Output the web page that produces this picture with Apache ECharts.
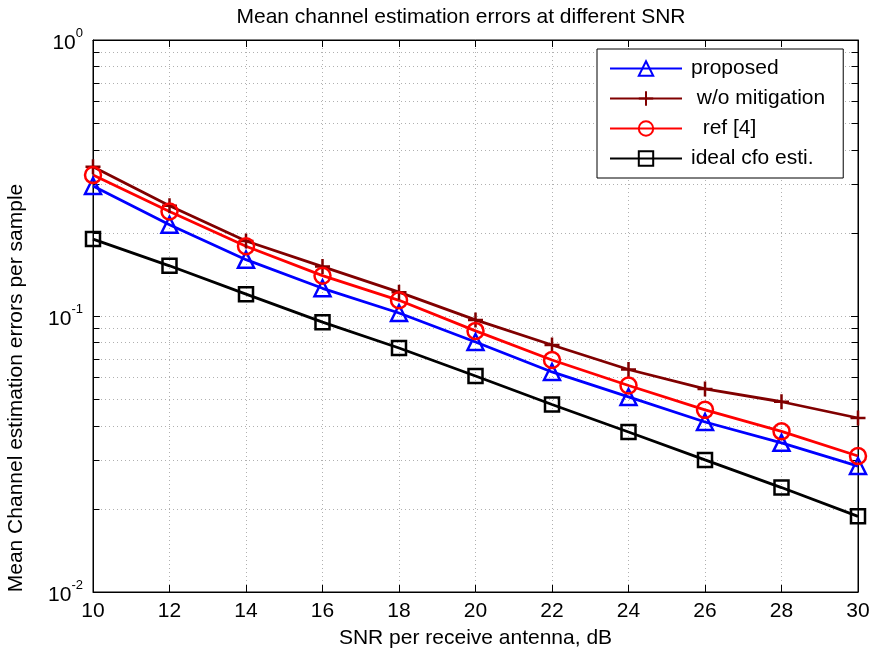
<!DOCTYPE html>
<html><head><meta charset="utf-8">
<script src="https://cdn.jsdelivr.net/npm/echarts@6/dist/echarts.min.js"></script>
<style>html,body{margin:0;padding:0;background:#fff}#c{width:873px;height:655px}</style>
</head><body><div id="c"></div>
<script>
const snr = [10, 12, 14, 16, 18, 20, 22, 24, 26, 28, 30];
const proposed = [0.296, 0.214, 0.160, 0.126, 0.1025, 0.0805, 0.0627, 0.0509, 0.0413, 0.0347, 0.0286];
const woMitigation = [0.347, 0.251, 0.187, 0.151, 0.122, 0.0968, 0.0785, 0.064, 0.0544, 0.0489, 0.0427];
const ref4 = [0.324, 0.239, 0.179, 0.140, 0.114, 0.0883, 0.0693, 0.0560, 0.0457, 0.0382, 0.0311];
const idealCfo = [0.190, 0.152, 0.120, 0.095, 0.0766, 0.0606, 0.0478, 0.0380, 0.0301, 0.0239, 0.0188];
const seriesNames = ['proposed', ' w/o mitigation', '  ref [4]', 'ideal cfo esti.'];
const minorGridValues = [0.02,0.03,0.04,0.05,0.06,0.07,0.08,0.09,0.2,0.3,0.4,0.5,0.6,0.7,0.8,0.9];

const SANS = '"Liberation Sans",Arial,sans-serif';

const chart = echarts.init(document.getElementById('c'), null, {renderer: 'canvas'});
const pair = (arr) => snr.map((x, i) => [x, arr[i]]);
const mk = (name, data, color, symbol, size) => ({
  name, type: 'line', data: pair(data), xAxisIndex: 0, yAxisIndex: 0,
  symbol, symbolSize: size, showAllSymbol: true,
  lineStyle: {color, width: 2.8, type: 'solid'},
  itemStyle: {color: 'rgba(255,255,255,0)', borderColor: color, borderWidth: 2.5},
  emphasis: {disabled: true}, z: 5
});
const plusPath = 'path://M0,-10L0,10M-10,0L10,0';
const tickLen = 0.17; // x units for inward minor tick marks
const minorTicks = [];
minorGridValues.forEach(v => {
  minorTicks.push([{coord: [10, v]}, {coord: [10 + tickLen, v]}]);
  minorTicks.push([{coord: [30 - tickLen, v]}, {coord: [30, v]}]);
});

const option = {
  animation: false,
  title: {text: 'Mean channel estimation errors at different SNR', left: 456, top: 2, textAlign: 'center',
    textStyle: {fontFamily: SANS, fontSize: 21, fontWeight: 'normal', color: '#000'}},
  grid: {left: 93, right: 15, top: 40, bottom: 63, show: true, borderColor: '#000', borderWidth: 1,
    containLabel: false, outerBoundsMode: 'none'},
  legend: {
    left: 597, top: 49, orient: 'vertical', itemWidth: 72, itemHeight: 18, itemGap: 9, z: 20,
    backgroundColor: '#fff', borderColor: '#000', borderWidth: 1, padding: [9, 18, 9, 12],
    textStyle: {fontFamily: SANS, fontSize: 21, lineHeight: 21, color: '#000', padding: [0, 0, 0, 4]},
    data: seriesNames
  },
  xAxis: [{
    type: 'value', min: 10, max: 30, interval: 2,
    axisLine: {show: true, lineStyle: {color: '#000'}},
    axisTick: {show: true, inside: true, length: 7, lineStyle: {color: '#000'}},
    axisLabel: {fontFamily: SANS, fontSize: 21, color: '#000', margin: 9},
    splitLine: {show: true, lineStyle: {color: '#b0b0b0', type: [1, 3], width: 1}},
    name: 'SNR per receive antenna, dB', nameLocation: 'middle', nameGap: 36,
    nameTextStyle: {fontFamily: SANS, fontSize: 21, color: '#000'}
  }, {
    type: 'value', min: 10, max: 30, interval: 2, position: 'top',
    axisLine: {show: true, lineStyle: {color: '#000'}},
    axisTick: {show: true, inside: true, length: 7, lineStyle: {color: '#000'}},
    axisLabel: {show: false}, splitLine: {show: false}
  }],
  yAxis: [{
    type: 'log', min: 0.01, max: 1, logBase: 10,
    axisLine: {show: true, lineStyle: {color: '#000'}},
    axisTick: {show: true, inside: true, length: 7, lineStyle: {color: '#000'}},
    axisLabel: {
      color: '#000', margin: 10,
      formatter: v => '{b|10}{s|' + Math.round(Math.log10(v)) + '}',
      rich: {b: {fontFamily: SANS, fontSize: 21, color: '#000', verticalAlign: 'bottom'},
             s: {fontFamily: SANS, fontSize: 13, color: '#000', verticalAlign: 'top', padding: [0, 0, 14, 0]}}
    },
    splitLine: {show: true, lineStyle: {color: '#b0b0b0', type: [1, 3], width: 1}},
    name: 'Mean Channel estimation errors per sample', nameLocation: 'middle', nameGap: 66, nameRotate: 90,
    nameTextStyle: {fontFamily: SANS, fontSize: 21, color: '#000', padding: [0, 144, 0, 0]}
  }, {
    type: 'log', min: 0.01, max: 1, logBase: 10, position: 'right',
    axisLine: {show: true, lineStyle: {color: '#000'}},
    axisTick: {show: true, inside: true, length: 7, lineStyle: {color: '#000'}},
    axisLabel: {show: false}, splitLine: {show: false}
  }],
  series: [
    {
      type: 'line', data: [], silent: true, z: 1,
      markLine: {silent: true, symbol: 'none', label: {show: false}, animation: false,
        lineStyle: {color: '#b0b0b0', type: [1, 3], width: 1},
        data: minorGridValues.map(v => ({yAxis: v}))}
    },
    {
      type: 'line', data: [], silent: true, z: 2,
      markLine: {silent: true, symbol: 'none', label: {show: false}, animation: false,
        lineStyle: {color: '#000', type: 'solid', width: 1},
        data: minorTicks}
    },
    mk('proposed', proposed, '#0000ff', 'triangle', 16),
    mk(' w/o mitigation', woMitigation, '#800000', plusPath, 15),
    mk('  ref [4]', ref4, '#ff0000', 'circle', 16),
    mk('ideal cfo esti.', idealCfo, '#000000', 'rect', 14)
  ]
};
chart.setOption(option);
</script></body></html>
